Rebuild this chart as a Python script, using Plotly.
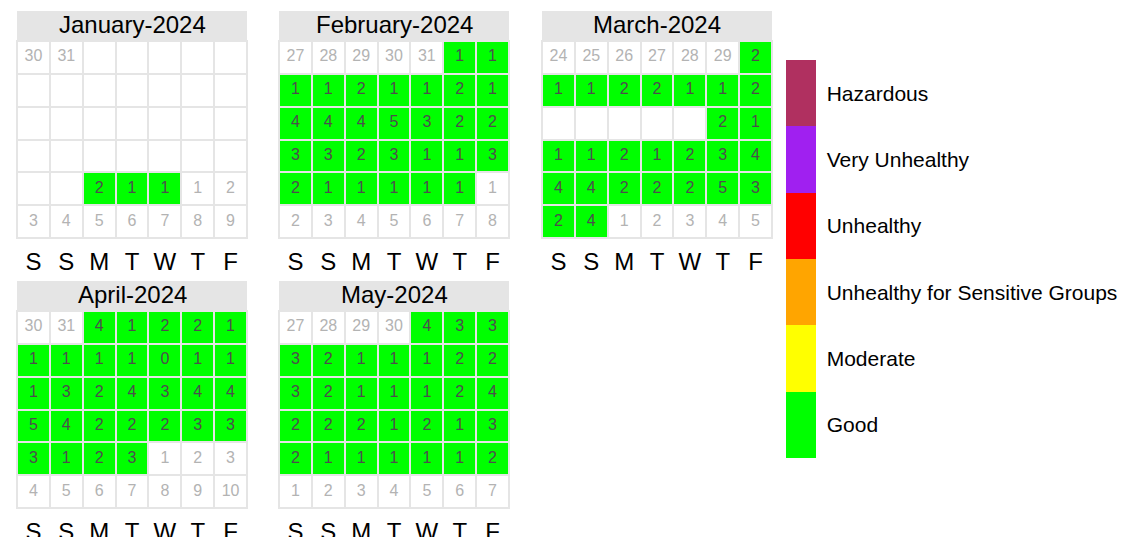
import datetime as dt
import numpy as np
import plotly.graph_objects as go

# Daily index values (None = no measurement that day)
jan_values = [None] * 28 + [2, 1, 1]
feb_values = [1, 1,
              1, 1, 2, 1, 1, 2, 1,
              4, 4, 4, 5, 3, 2, 2,
              3, 3, 2, 3, 1, 1, 3,
              2, 1, 1, 1, 1, 1]
mar_values = [2,
              1, 1, 2, 2, 1, 1, 2,
              None, None, None, None, None, 2, 1,
              1, 1, 2, 1, 2, 3, 4,
              4, 4, 2, 2, 2, 5, 3,
              2, 4]
apr_values = [4, 1, 2, 2, 1,
              1, 1, 1, 1, 0, 1, 1,
              1, 3, 2, 4, 3, 4, 4,
              5, 4, 2, 2, 2, 3, 3,
              3, 1, 2, 3]
may_values = [4, 3, 3,
              3, 2, 1, 1, 1, 2, 2,
              3, 2, 1, 1, 1, 2, 4,
              2, 2, 2, 1, 2, 1, 3,
              2, 1, 1, 1, 1, 1, 2]

months = [(2024, 1, "January-2024", jan_values),
          (2024, 2, "February-2024", feb_values),
          (2024, 3, "March-2024", mar_values),
          (2024, 4, "April-2024", apr_values),
          (2024, 5, "May-2024", may_values)]

weekday_labels = ["S", "S", "M", "T", "W", "T", "F"]

# AQI categories and their lower bounds
aqi_labels = ["Good", "Moderate", "Unhealthy for Sensitive Groups",
              "Unhealthy", "Very Unhealthy", "Hazardous"]
aqi_breaks = [51, 101, 151, 201, 301]
aqi_colors = ["#00FF00", "#FFFF00", "#FFA500", "#FF0000", "#A020F0", "#B03060"]

W, H = 1127, 537
FONT = "Liberation Sans, Arial, sans-serif"

# panel placement in pixels: (left, grid top) ; grid is 230 x 197
panel_pos = [(17, 41), (279, 41), (542, 41), (17, 311), (279, 311)]
GRID_W, GRID_H, STRIP_H = 230, 197, 30

fig = go.Figure()

n = len(aqi_colors)
colorscale = []
for i, c in enumerate(aqi_colors):
    colorscale.append([i / n, c])
    colorscale.append([(i + 1) / n, c])

for k, (year, month, title, values) in enumerate(months):
    ax = "" if k == 0 else str(k + 1)
    first = dt.date(year, month, 1)
    first_col = (first.weekday() + 2) % 7  # Saturday-first columns
    start = first - dt.timedelta(days=first_col)

    z = np.full((6, 7), np.nan)
    tx, ty, tt, tc = [], [], [], []
    for cell in range(42):
        d = start + dt.timedelta(days=cell)
        r, c = divmod(cell, 7)
        if d.month == month:
            v = values[d.day - 1]
            if v is not None:
                z[r, c] = int(np.digitize(v, aqi_breaks))
                tx.append(c); ty.append(r); tt.append(str(v)); tc.append("#4D4D4D")
        else:
            tx.append(c); ty.append(r); tt.append(str(d.day)); tc.append("#B3B3B3")

    xs = list(range(7))
    ys = list(range(6))
    # white base tiles
    fig.add_trace(go.Heatmap(
        x=xs, y=ys, z=np.zeros((6, 7)), colorscale=[[0, "white"], [1, "white"]],
        showscale=False, xgap=2, ygap=2, hoverinfo="skip",
        xaxis="x" + ax, yaxis="y" + ax))
    # coloured tiles
    fig.add_trace(go.Heatmap(
        x=xs, y=ys, z=z, coloraxis="coloraxis", xgap=2, ygap=2,
        hoverinfo="skip", xaxis="x" + ax, yaxis="y" + ax))
    fig.add_trace(go.Scatter(
        x=tx, y=ty, text=tt, mode="text",
        textfont=dict(size=16, color=tc, family=FONT),
        hoverinfo="skip", showlegend=False, xaxis="x" + ax, yaxis="y" + ax))

    left, top = panel_pos[k]
    xdom = [left / W, (left + GRID_W) / W]
    ydom = [1 - (top + GRID_H) / H, 1 - top / H]
    fig.layout["xaxis" + ax] = dict(
        domain=xdom, range=[-0.5, 6.5], tickvals=xs, ticktext=weekday_labels,
        tickfont=dict(size=24, color="black", family=FONT), ticks="",
        ticklabelstandoff=2, automargin=False,
        showgrid=False, zeroline=False, showline=True, mirror=True,
        linecolor="#E5E5E5", linewidth=1, fixedrange=True,
        anchor="y" + ax)
    fig.layout["yaxis" + ax] = dict(
        domain=ydom, range=[5.5, -0.5], showticklabels=False, ticks="",
        showgrid=False, zeroline=False, showline=True, mirror=True,
        linecolor="#E5E5E5", linewidth=1, fixedrange=True, automargin=False,
        anchor="x" + ax)

    strip_top = 1 + STRIP_H / GRID_H
    fig.add_shape(type="rect", xref="x" + ax + " domain", yref="y" + ax + " domain",
                  x0=0, x1=1, y0=1 + 1 / GRID_H, y1=strip_top,
                  fillcolor="#E5E5E5", line=dict(width=0), layer="below")
    fig.add_annotation(text=title, xref="x" + ax + " domain", yref="y" + ax + " domain",
                       x=0.5, y=(1 + strip_top) / 2 + 1.5 / GRID_H, showarrow=False,
                       xanchor="center", yanchor="middle",
                       font=dict(size=24, color="black", family=FONT))

fig.update_layout(
    width=W, height=H,
    margin=dict(l=0, r=0, t=0, b=0, autoexpand=False),
    paper_bgcolor="white", plot_bgcolor="#E5E5E5",
    showlegend=False,
    font=dict(family=FONT),
    coloraxis=dict(
        colorscale=colorscale, cmin=-0.5, cmax=n - 0.5,
        colorbar=dict(
            x=786 / W, xanchor="left", y=1 - 60 / H, yanchor="top",
            len=398, lenmode="pixels", thickness=30, thicknessmode="pixels",
            xpad=0, ypad=0, outlinewidth=0,
            tickvals=list(range(n)), ticktext=aqi_labels,
            ticks="outside", ticklen=7, tickcolor="rgba(0,0,0,0)",
            tickfont=dict(size=21, color="black", family=FONT))),
)

fig.write_html("out.html")
